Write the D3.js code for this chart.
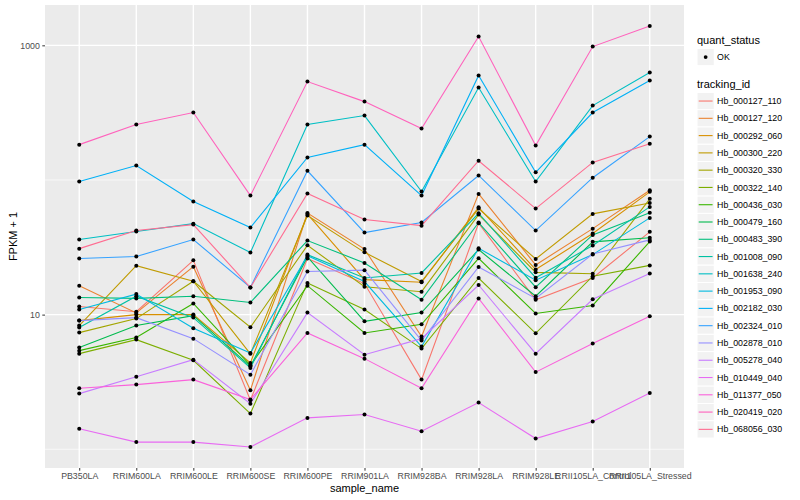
<!DOCTYPE html>
<html>
<head>
<meta charset="utf-8">
<script src="https://cdn.jsdelivr.net/npm/d3@7"></script>
<style>
  body { margin: 0; background: #fff; }
  text { font-family: "Liberation Sans", Arial, sans-serif; }
</style>
</head>
<body>
<div id="chart"></div>
<script>
var samples = ["PB350LA", "RRIM600LA", "RRIM600LE", "RRIM600SE", "RRIM600PE", "RRIM901LA",
  "RRIM928BA", "RRIM928LA", "RRIM928LE", "RRII105LA_Control", "RRII105LA_Stressed"];

var trackingIds = ["Hb_000127_110", "Hb_000127_120", "Hb_000292_060", "Hb_000300_220",
  "Hb_000320_330", "Hb_000322_140", "Hb_000436_030", "Hb_000479_160", "Hb_000483_390",
  "Hb_001008_090", "Hb_001638_240", "Hb_001953_090", "Hb_002182_030", "Hb_002324_010",
  "Hb_002878_010", "Hb_005278_040", "Hb_010449_040", "Hb_011377_050", "Hb_020419_020",
  "Hb_068056_030"];

// FPKM + 1, one row per tracking_id, one value per sample
var fpkm = [
  [11.5, 10.5, 25.3, 2.31, 26.1, 17.0, 3.29, 47.7, 12.9, 18.7, 41.2],
  [16.4, 10.3, 22.7, 2.74, 56.8, 30.7, 6.87, 78.8, 23.4, 43.5, 83.8],
  [9.03, 10.0, 10.0, 4.38, 55.8, 18.2, 17.4, 62.7, 21.6, 40.0, 81.6],
  [8.29, 23.1, 17.7, 5.11, 54.4, 29.0, 17.6, 61.3, 25.9, 56.0, 67.4],
  [7.35, 9.34, 17.7, 8.05, 32.7, 16.1, 14.8, 55.3, 20.6, 20.1, 72.4],
  [5.13, 6.52, 4.58, 1.84, 17.2, 10.9, 5.59, 18.7, 7.26, 19.3, 23.2],
  [5.40, 6.75, 12.1, 4.20, 16.4, 7.31, 8.47, 26.2, 10.2, 11.7, 34.9],
  [5.69, 8.29, 9.83, 4.13, 26.8, 8.92, 10.35, 30.4, 13.7, 34.7, 37.2],
  [13.4, 13.2, 13.7, 12.3, 35.5, 24.2, 12.9, 48.3, 16.0, 39.1, 57.1],
  [8.01, 13.7, 9.50, 4.02, 27.9, 18.7, 20.4, 56.6, 18.8, 32.6, 63.1],
  [36.1, 41.4, 47.4, 28.9, 258, 301, 82.0, 486, 97.3, 357, 628],
  [10.9, 14.2, 7.91, 5.19, 27.4, 17.6, 5.79, 31.1, 18.0, 27.9, 52.3],
  [97.3, 128, 69.1, 44.3, 147, 183, 76.6, 597, 114, 317, 548],
  [26.1, 27.0, 36.1, 15.9, 117, 40.7, 48.3, 108, 42.1, 104, 210],
  [9.03, 9.50, 6.63, 3.58, 20.9, 21.4, 6.41, 22.6, 13.2, 28.2, 35.9],
  [2.59, 3.46, 4.63, 2.18, 10.35, 5.04, 6.63, 16.6, 5.13, 13.0, 20.2],
  [1.42, 1.13, 1.13, 1.04, 1.71, 1.81, 1.36, 2.22, 1.20, 1.61, 2.62],
  [2.84, 3.02, 3.29, 2.34, 7.31, 4.71, 2.84, 13.2, 3.74, 6.09, 9.71],
  [183, 258, 317, 76.6, 538, 382, 241, 1162, 180, 979, 1391],
  [30.9, 42.1, 46.6, 15.9, 79.3, 50.8, 45.8, 139, 61.3, 135, 186]
];

var quantStatus = ["OK"];
var yTicks = [10, 1000];
var yMinor = [1, 100];

var palette = ["#F8766D", "#EA8331", "#D89000", "#C09B00", "#A3A500", "#7CAE00", "#39B600",
  "#00BB4E", "#00BF7D", "#00C1A3", "#00BFC4", "#00BAE0", "#00B0F6", "#35A2FF", "#9590FF",
  "#C77CFF", "#E76BF3", "#FA62DB", "#FF62BC", "#FF6C91"];

var margin = {top: 5, left: 45};
var width = 639, height = 463;

var color = d3.scaleOrdinal().domain(trackingIds).range(palette);

var svg = d3.select("#chart").append("svg")
  .attr("width", 800)
  .attr("height", 500);

var g = svg.append("g")
  .attr("transform", "translate(" + margin.left + "," + margin.top + ")");

var x = d3.scalePoint()
  .domain(samples)
  .range([0, width])
  .padding(0.6);

// ggplot style: 5% expansion of the log10 range
var all = d3.merge(fpkm);
var lo = Math.log10(d3.min(all)), hi = Math.log10(d3.max(all));
var pad = (hi - lo) * 0.05;
var y = d3.scaleLog()
  .domain([Math.pow(10, lo - pad), Math.pow(10, hi + pad)])
  .range([height, 0]);

g.append("rect")
  .attr("width", width)
  .attr("height", height)
  .style("fill", "#EBEBEB");

g.selectAll(".minor")
  .data(yMinor)
  .enter().append("line")
  .attr("x1", 0).attr("x2", width)
  .attr("y1", function (d) { return y(d); })
  .attr("y2", function (d) { return y(d); })
  .style("stroke", "#fff")
  .style("stroke-width", 0.7);

g.selectAll(".hgrid")
  .data(yTicks)
  .enter().append("line")
  .attr("x1", 0).attr("x2", width)
  .attr("y1", function (d) { return y(d); })
  .attr("y2", function (d) { return y(d); })
  .style("stroke", "#fff")
  .style("stroke-width", 1.4);

g.selectAll(".vgrid")
  .data(samples)
  .enter().append("line")
  .attr("y1", 0).attr("y2", height)
  .attr("x1", function (d) { return x(d); })
  .attr("x2", function (d) { return x(d); })
  .style("stroke", "#fff")
  .style("stroke-width", 1.4);

var line = d3.line()
  .x(function (d, i) { return x(samples[i]); })
  .y(function (d) { return y(d); });

g.selectAll(".series")
  .data(fpkm)
  .enter().append("path")
  .attr("d", line)
  .style("fill", "none")
  .style("stroke", function (d, i) { return color(trackingIds[i]); })
  .style("stroke-width", 1.1);

var pts = [];
fpkm.forEach(function (row) {
  row.forEach(function (v, i) { pts.push({s: samples[i], v: v}); });
});

g.selectAll(".dot")
  .data(pts)
  .enter().append("circle")
  .attr("r", 2)
  .attr("cx", function (d) { return x(d.s); })
  .attr("cy", function (d) { return y(d.v); })
  .style("fill", "#000");

var yAxis = g.append("g")
  .call(d3.axisLeft(y).tickValues(yTicks).tickSize(2.7).tickPadding(2.4)
    .tickFormat(d3.format("d")));

var xAxis = g.append("g")
  .attr("transform", "translate(0," + height + ")")
  .call(d3.axisBottom(x).tickSize(2.7).tickPadding(1.8));

[yAxis, xAxis].forEach(function (a) {
  a.select(".domain").remove();
  a.selectAll(".tick line").style("stroke", "#333").style("stroke-width", 1);
  a.selectAll(".tick text")
    .style("fill", "#4D4D4D")
    .style("font-size", "8.8px")
    .style("font-family", "'Liberation Sans', Arial, sans-serif");
});

svg.append("text")
  .attr("x", margin.left + width / 2)
  .attr("y", 491.5)
  .attr("text-anchor", "middle")
  .style("font-size", "11px")
  .text("sample_name");

svg.append("text")
  .attr("transform", "translate(16.5," + (margin.top + height / 2) + ") rotate(-90)")
  .attr("text-anchor", "middle")
  .style("font-size", "11px")
  .text("FPKM + 1");

// legends
var key = 17.28, lx = 697;
var legend = svg.append("g");

legend.append("text")
  .attr("x", lx).attr("y", 44.3)
  .style("font-size", "11px")
  .text("quant_status");

var qs = legend.selectAll(".qs")
  .data(quantStatus)
  .enter().append("g")
  .attr("transform", function (d, i) { return "translate(" + lx + "," + (48.4 + i * key) + ")"; });
qs.append("rect")
  .attr("width", key).attr("height", key)
  .style("fill", "#F2F2F2").style("stroke", "#fff");
qs.append("circle")
  .attr("cx", key / 2).attr("cy", key / 2).attr("r", 1.9)
  .style("fill", "#000");
qs.append("text")
  .attr("x", key + 2.8).attr("y", key / 2)
  .attr("dy", "0.35em")
  .style("font-size", "8.8px")
  .text(function (d) { return d; });

legend.append("text")
  .attr("x", lx).attr("y", 88)
  .style("font-size", "11px")
  .text("tracking_id");

var items = legend.selectAll(".tid")
  .data(trackingIds)
  .enter().append("g")
  .attr("transform", function (d, i) { return "translate(" + lx + "," + (92.4 + i * key) + ")"; });
items.append("rect")
  .attr("width", key).attr("height", key)
  .style("fill", "#F2F2F2").style("stroke", "#fff");
items.append("line")
  .attr("x1", 1.7).attr("x2", key - 1.7)
  .attr("y1", key / 2).attr("y2", key / 2)
  .style("stroke", function (d) { return color(d); })
  .style("stroke-width", 1.1);
items.append("text")
  .attr("x", key + 2.8).attr("y", key / 2)
  .attr("dy", "0.35em")
  .style("font-size", "8.8px")
  .text(function (d) { return d; });
</script>
</body>
</html>
